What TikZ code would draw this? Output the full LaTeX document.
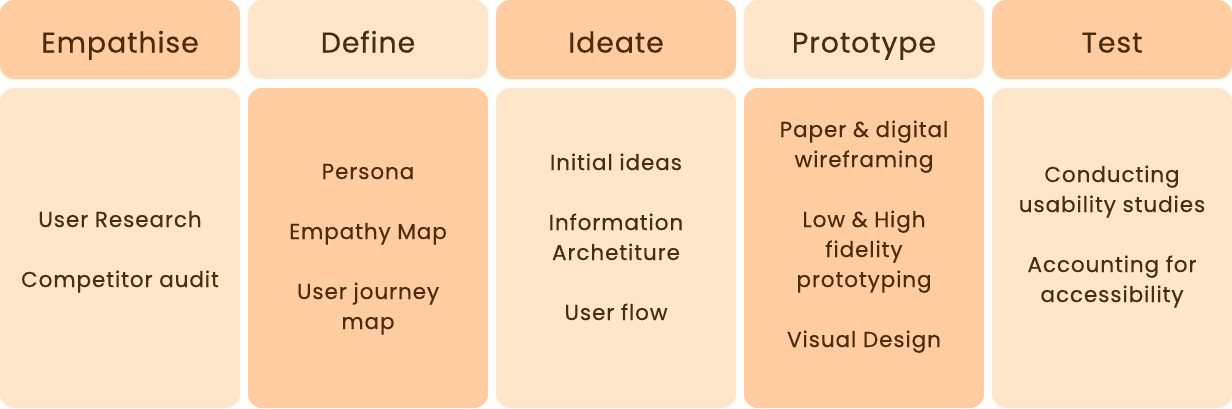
\documentclass[tikz,border=0pt]{standalone}
\usepackage{fontspec}
\setmainfont{Poppins}[LetterSpace=4,FakeBold=0.3]
\newfontfamily\hdrfont{Poppins}[LetterSpace=3,FakeBold=0.3]
\definecolor{darkbox}{HTML}{FFCD9F}
\definecolor{lightbox}{HTML}{FEE6CB}
\definecolor{ink}{HTML}{4A2C0E}
\tikzset{
  box/.style={rounded corners=14pt},
  hdr/.style={anchor=base, text=ink, inner sep=0pt, font=\hdrfont\fontsize{28.5}{34}\selectfont},
  itm/.style={anchor=base, text=ink, inner sep=0pt, font=\fontsize{21.6}{30}\selectfont},
}
\begin{document}
\begin{tikzpicture}[x=1pt,y=-1pt]
\useasboundingbox (0,0) rectangle (1232,408);
% boxes
\fill[box,darkbox]  (0,0) rectangle (240,79);
\fill[box,lightbox] (248,0) rectangle (488,79);
\fill[box,darkbox]  (496,0) rectangle (736,79);
\fill[box,lightbox] (744,0) rectangle (984,79);
\fill[box,darkbox]  (992,0) rectangle (1232,79);
\fill[box,lightbox] (0,88) rectangle (240,408);
\fill[box,darkbox]  (248,88) rectangle (488,408);
\fill[box,lightbox] (496,88) rectangle (736,408);
\fill[box,darkbox]  (744,88) rectangle (984,408);
\fill[box,lightbox] (992,88) rectangle (1232,408);
% headers
\node[hdr] (h1) at (120,52.5) {Empathise};
\node[hdr] (h2) at (368,52.5) {Define};
\node[hdr] (h3) at (616,52.5) {Ideate};
\node[hdr] (h4) at (864,52.5) {Prototype};
\node[hdr] (h5) at (1112,52.5) {Test};
% Empathise
\node[itm] (e1) at (120,227) {User Research};
\node[itm] (e2) at (120,287) {Competitor audit};
% Define
\node[itm] (d1) at (368,179) {Persona};
\node[itm] (d2) at (368,239) {Empathy Map};
\node[itm] (d3) at (368,299) {User journey};
\node[itm] (d4) at (368,329) {map};
% Ideate
\node[itm] (i1) at (616,170) {Initial ideas};
\node[itm] (i2) at (616,230) {Information};
\node[itm] (i3) at (616,260) {Archetiture};
\node[itm] (i4) at (616,320) {User flow};
% Prototype
\node[itm] (p1) at (864,137) {Paper \& digital};
\node[itm] (p2) at (864,167) {wireframing};
\node[itm] (p3) at (864,227) {Low \& High};
\node[itm] (p4) at (864,257) {fidelity};
\node[itm] (p5) at (864,287) {prototyping};
\node[itm] (p6) at (864,347) {Visual Design};
% Test
\node[itm] (t1) at (1112,182) {Conducting};
\node[itm] (t2) at (1112,212) {usability studies};
\node[itm] (t3) at (1112,272) {Accounting for};
\node[itm] (t4) at (1112,302) {accessibility};
\end{tikzpicture}
\end{document}
